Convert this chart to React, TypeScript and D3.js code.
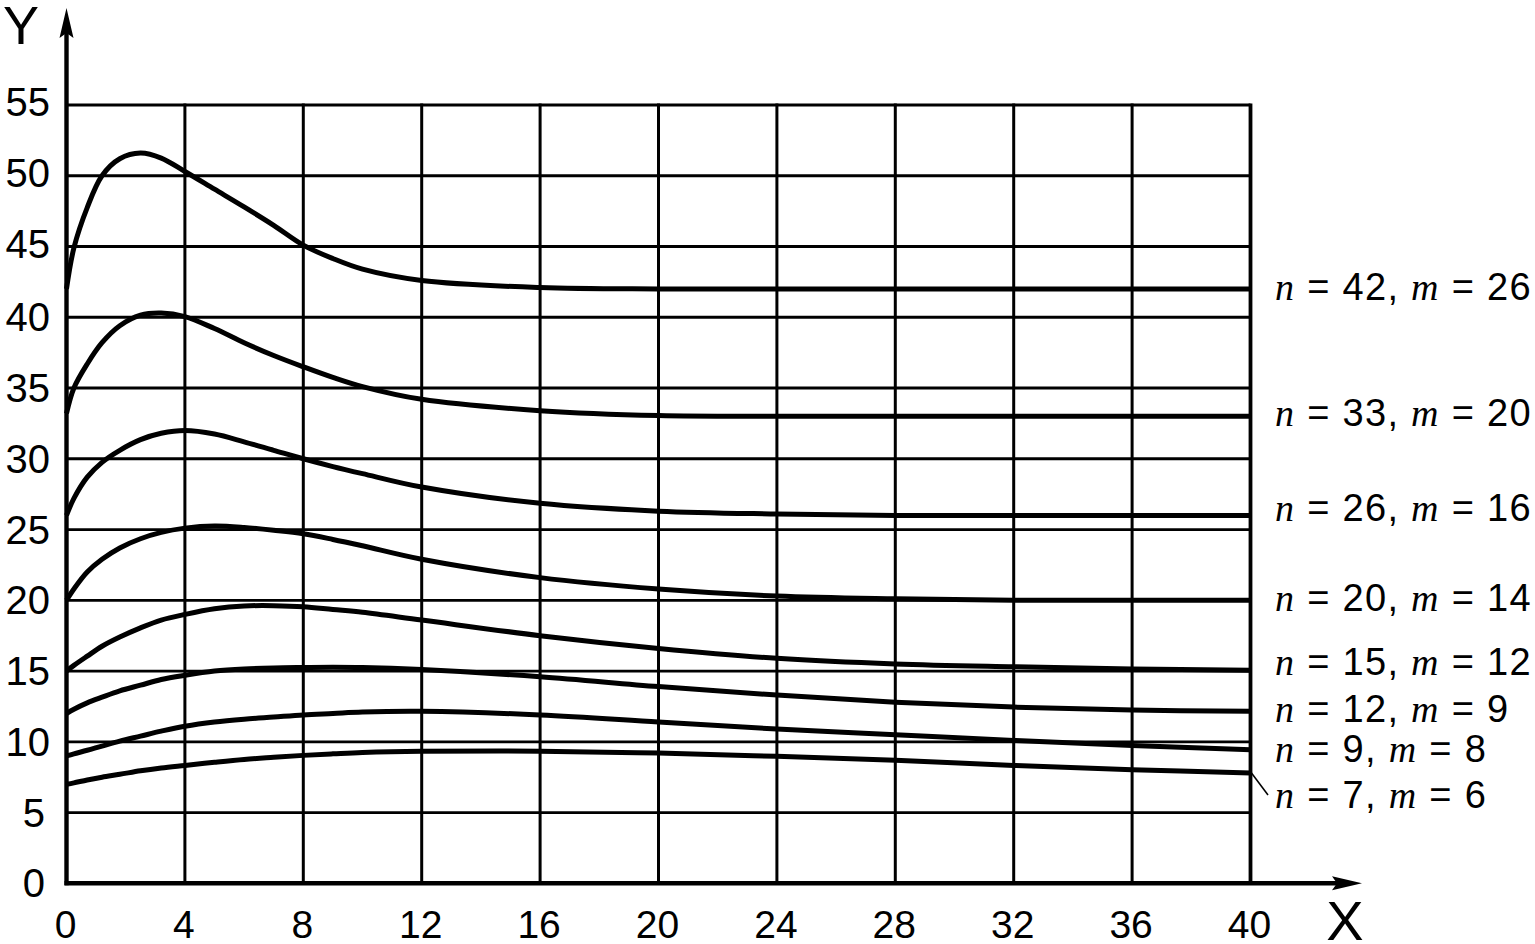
import React from "react";
import * as d3 from "d3";

// ---- data ----
const xs = [0, 0.25, 0.7, 1.2, 1.8, 2.5, 3.2, 4, 5, 6, 7, 8, 9, 10, 12, 16, 20, 24, 28, 32, 36, 40];

const s42 = [42, 44.9, 47.75, 50.0, 51.2, 51.6, 51.25, 50.3, 49.05, 47.8, 46.5, 45.1, 44.15, 43.4, 42.6, 42.1, 42, 42, 42, 42, 42, 42];
const s33 = [33.2, 35.0, 36.7, 38.2, 39.4, 40.15, 40.3, 40.05, 39.2, 38.2, 37.3, 36.5, 35.75, 35.1, 34.2, 33.4, 33.05, 33, 33, 33, 33, 33];
const s26 = [26, 27.2, 28.7, 29.75, 30.6, 31.35, 31.8, 32.0, 31.75, 31.2, 30.6, 30.0, 29.45, 28.95, 28.0, 26.85, 26.3, 26.1, 26.0, 26, 26, 26];
const s20 = [20, 20.8, 22.0, 22.9, 23.7, 24.35, 24.8, 25.1, 25.25, 25.15, 24.95, 24.7, 24.3, 23.85, 22.9, 21.6, 20.8, 20.3, 20.1, 20, 20, 20];
const s15 = [15, 15.4, 16.05, 16.75, 17.4, 18.05, 18.6, 19.0, 19.4, 19.6, 19.62, 19.55, 19.35, 19.15, 18.6, 17.5, 16.6, 15.9, 15.5, 15.3, 15.15, 15.05];
const s12 = [12, 12.3, 12.75, 13.15, 13.6, 14.0, 14.4, 14.7, 15.0, 15.15, 15.22, 15.25, 15.27, 15.25, 15.1, 14.6, 13.9, 13.3, 12.8, 12.45, 12.25, 12.15];
const s9 = [9.0, 9.15, 9.4, 9.7, 10.05, 10.4, 10.75, 11.1, 11.4, 11.6, 11.75, 11.9, 12.0, 12.1, 12.15, 11.9, 11.4, 10.9, 10.5, 10.1, 9.74, 9.44];
const s7 = [7.0, 7.1, 7.3, 7.5, 7.7, 7.95, 8.15, 8.33, 8.55, 8.75, 8.9, 9.04, 9.15, 9.25, 9.34, 9.34, 9.2, 8.97, 8.7, 8.33, 8.03, 7.8];

const seriesValues = [s42, s33, s26, s20, s15, s12, s9, s7];
const seriesN = ["42", "33", "26", "20", "15", "12", "9", "7"];
const seriesM = ["26", "20", "16", "14", "12", "9", "8", "6"];

const xTicks = [0, 4, 8, 12, 16, 20, 24, 28, 32, 36, 40];
const yTicks = [0, 5, 10, 15, 20, 25, 30, 35, 40, 45, 50, 55];

// ---- layout ----
const W = 1535;
const H = 944;
const LABEL_DY = [-1.5, -3, -7, -2.5, -8, -2, -1, 22];
const SANS = "'Liberation Sans', Arial, Helvetica, sans-serif";
const SERIF = "'Liberation Serif', 'Times New Roman', serif";

export default function App() {
  const x = d3.scaleLinear().domain([0, 40]).range([66.5, 1250.5]);
  const y = d3.scaleLinear().domain([0, 55]).range([883.3, 105]);

  const line = d3
    .line<[number, number]>()
    .x((d) => x(d[0]))
    .y((d) => y(d[1]))
    .curve(d3.curveCatmullRom.alpha(0.5));

  const x0 = x(0);
  const y0 = y(0);

  return (
    <svg
      width={W}
      height={H}
      viewBox={`0 0 ${W} ${H}`}
      style={{ position: "absolute", left: 0, top: 0, background: "#fff" }}
    >
      <rect x={0} y={0} width={W} height={H} fill="#fff" />
      {/* horizontal grid */}
      {yTicks
        .filter((t) => t > 0)
        .map((t) => (
          <line key={"h" + t} x1={x0} x2={x(40)} y1={y(t)} y2={y(t)} stroke="#000" strokeWidth={2.8} />
        ))}
      {/* vertical grid */}
      {xTicks
        .filter((t) => t > 0)
        .map((t) => (
          <line
            key={"v" + t}
            x1={x(t)}
            x2={x(t)}
            y1={y(55) - 1.4}
            y2={y0}
            stroke="#000"
            strokeWidth={t === 40 ? 3.8 : 3}
          />
        ))}
      {/* curves */}
      {seriesValues.map((vals, i) => (
        <path
          key={"c" + i}
          d={line(xs.map((xv, j) => [xv, vals[j]] as [number, number])) || ""}
          fill="none"
          stroke="#000"
          strokeWidth={5}
          strokeLinejoin="round"
        />
      ))}
      {/* axes */}
      <line x1={x0} x2={x0} y1={y0 + 2} y2={30} stroke="#000" strokeWidth={4.4} />
      <polygon points={`${x0},8 ${x0 - 7},38 ${x0},33 ${x0 + 7},38`} fill="#000" />
      <line x1={x0 - 2} x2={1340} y1={y0} y2={y0} stroke="#000" strokeWidth={4.6} />
      <polygon points={`1362,${y0} 1332,${y0 - 7} 1337,${y0} 1332,${y0 + 7}`} fill="#000" />
      <text x={21} y={44} fontFamily={SANS} fontSize={54} textAnchor="middle">
        Y
      </text>
      <text x={1345} y={940} fontFamily={SANS} fontSize={56} textAnchor="middle">
        X
      </text>
      {/* y tick labels */}
      {yTicks.map((t) => (
        <text
          key={"yt" + t}
          x={t >= 10 ? 50 : 45}
          y={y(t) - (t >= 45 ? 3 : 0) + 14}
          fontFamily={SANS}
          fontSize={40}
          textAnchor="end"
        >
          {t}
        </text>
      ))}
      {/* x tick labels */}
      {xTicks.map((t) => (
        <text
          key={"xt" + t}
          x={x(t) - 1}
          y={938}
          fontFamily={SANS}
          fontSize={39}
          textAnchor="middle"
        >
          {t}
        </text>
      ))}
      {/* series labels */}
      {seriesValues.map((vals, i) => {
        const ly = y(vals[vals.length - 1]) + LABEL_DY[i];
        return (
          <text
            key={"l" + i}
            x={1275}
            y={ly}
            fontFamily={SANS}
            fontSize={38}
            letterSpacing={1.3}
            dominantBaseline="central"
            style={{ whiteSpace: "pre" }}
          >
            <tspan fontFamily={SERIF} fontStyle="italic">n</tspan>
            <tspan>{" = " + seriesN[i] + ", "}</tspan>
            <tspan fontFamily={SERIF} fontStyle="italic">m</tspan>
            <tspan>{" = " + seriesM[i]}</tspan>
          </text>
        );
      })}
      {/* leader line for n = 7 */}
      <line
        x1={x(40) + 1}
        y1={y(s7[s7.length - 1])}
        x2={1268}
        y2={y(s7[s7.length - 1]) + 22}
        stroke="#000"
        strokeWidth={1.6}
      />
    </svg>
  );
}
